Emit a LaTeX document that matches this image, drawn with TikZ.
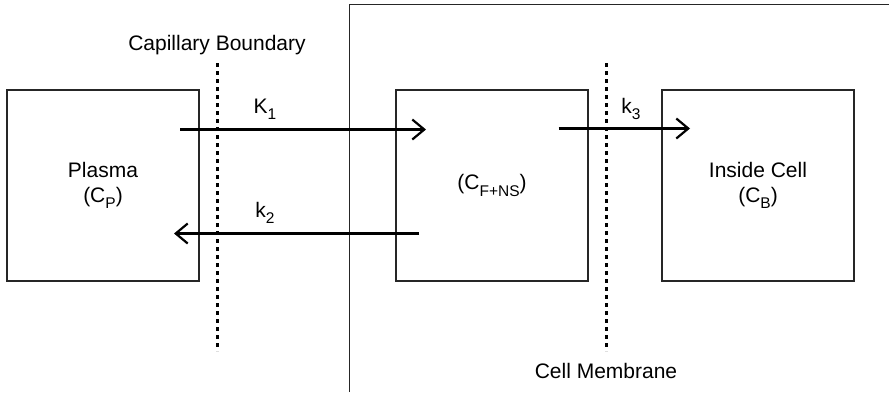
\documentclass[tikz,border=0pt]{standalone}
\usepackage{fontspec}
\setmainfont{Liberation Sans}
\usetikzlibrary{arrows.meta}
\newcommand{\mysub}[1]{\raisebox{-0.3em}{\fontsize{15.5}{16}\selectfont #1}}
\begin{document}
\begin{tikzpicture}[x=1pt,y=-1pt,
  compbox/.style={draw=black!85,line width=1.3pt,minimum width=192pt,minimum height=191pt,inner sep=0pt,align=center},
  flow/.style={line width=2.4pt,-{Straight Barb[length=12pt,width=20pt,line width=2.2pt]}},
  boundary/.style={line width=3pt,dash pattern=on 4pt off 4pt},
  lbl/.style={inner sep=0pt}]
\useasboundingbox (0,0) rectangle (889,392);
\fontsize{21}{25}\selectfont
% cell outline
\coordinate (cb) at (349.5,392);
\coordinate (ct) at (349.5,4.5);
\coordinate (cr) at (889,4.5);
\draw[black!85,line width=1.3pt] (cb) -- (ct) -- (cr);
% boxes
\node[compbox] (plasma) at (103,185.5) {Plasma\\(C\mysub{P})};
\node[compbox] (free) at (492,185.5) {(C\mysub{F+NS})};
\node[compbox] (inside) at (758,185.5) {Inside Cell\\(C\mysub{B})};
% boundaries
\coordinate (capt) at (217,63);
\coordinate (capb) at (217,351);
\draw[boundary] (capt) -- (capb);
\coordinate (memt) at (606,63);
\coordinate (memb) at (606,351);
\draw[boundary] (memt) -- (memb);
\node[lbl] (caplbl) at (217,45) {Capillary Boundary};
\node[lbl] (memlbl) at (606,371) {Cell Membrane};
% arrows
\coordinate (k1s) at (180,129.5);
\coordinate (k1e) at (426,129.5);
\draw[flow] (k1s) -- (k1e);
\coordinate (k2s) at (419,233.5);
\coordinate (k2e) at (174,233.5);
\draw[flow] (k2s) -- (k2e);
\coordinate (k3s) at (558.5,128.5);
\coordinate (k3e) at (690,128.5);
\draw[flow] (k3s) -- (k3e);
\node[lbl] (k1) at (265,109) {K\mysub{1}};
\node[lbl] (k2) at (265,213) {k\mysub{2}};
\node[lbl] (k3) at (631,109) {k\mysub{3}};
\end{tikzpicture}
\end{document}
